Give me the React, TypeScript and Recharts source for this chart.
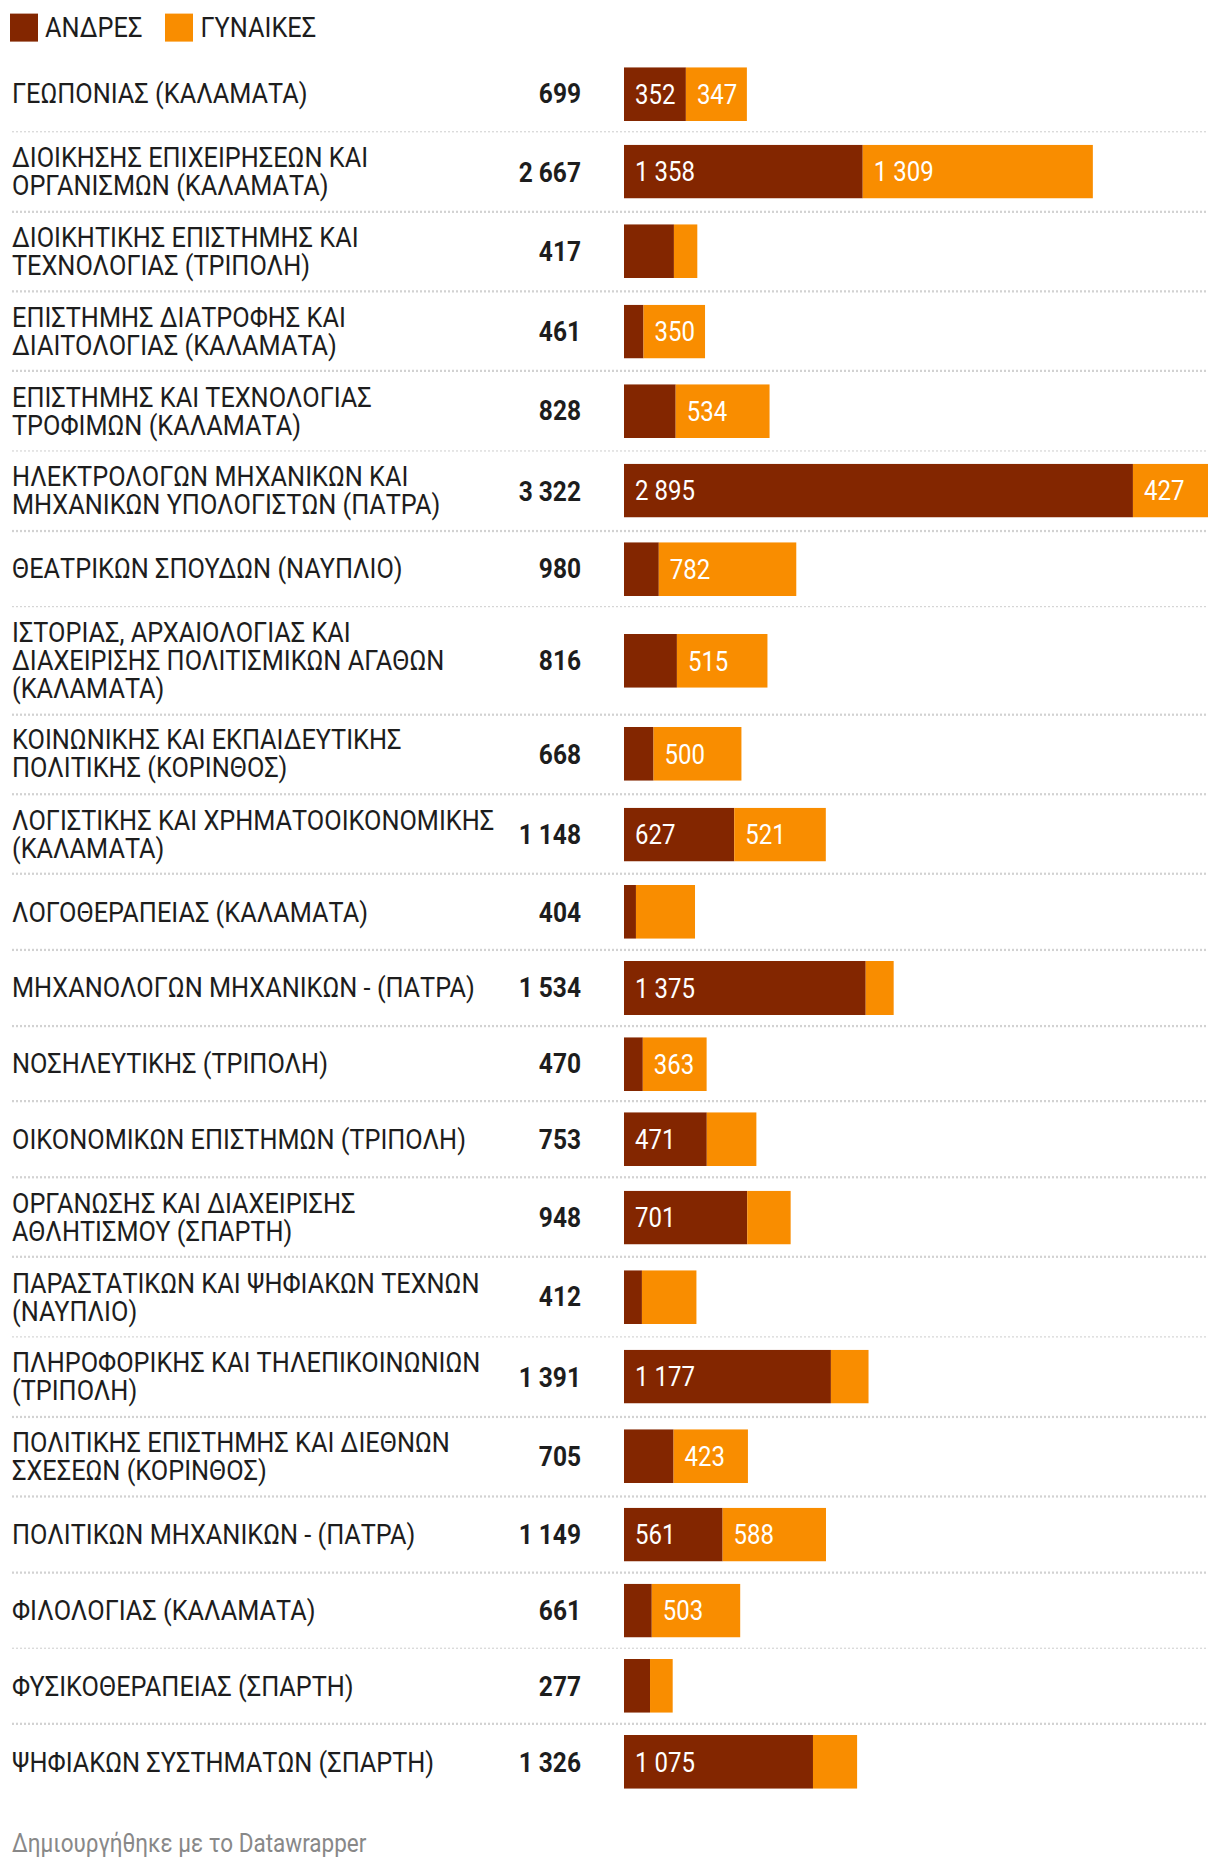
import React from 'react';
import { BarChart, Bar, XAxis, YAxis, LabelList } from 'recharts';

// line breaks follow the reference wrapping
const categories = [
  'ΓΕΩΠΟΝΙΑΣ (ΚΑΛΑΜΑΤΑ)',
  'ΔΙΟΙΚΗΣΗΣ ΕΠΙΧΕΙΡΗΣΕΩΝ ΚΑΙ\nΟΡΓΑΝΙΣΜΩΝ (ΚΑΛΑΜΑΤΑ)',
  'ΔΙΟΙΚΗΤΙΚΗΣ ΕΠΙΣΤΗΜΗΣ ΚΑΙ\nΤΕΧΝΟΛΟΓΙΑΣ (ΤΡΙΠΟΛΗ)',
  'ΕΠΙΣΤΗΜΗΣ ΔΙΑΤΡΟΦΗΣ ΚΑΙ\nΔΙΑΙΤΟΛΟΓΙΑΣ (ΚΑΛΑΜΑΤΑ)',
  'ΕΠΙΣΤΗΜΗΣ ΚΑΙ ΤΕΧΝΟΛΟΓΙΑΣ\nΤΡΟΦΙΜΩΝ (ΚΑΛΑΜΑΤΑ)',
  'ΗΛΕΚΤΡΟΛΟΓΩΝ ΜΗΧΑΝΙΚΩΝ ΚΑΙ\nΜΗΧΑΝΙΚΩΝ ΥΠΟΛΟΓΙΣΤΩΝ (ΠΑΤΡΑ)',
  'ΘΕΑΤΡΙΚΩΝ ΣΠΟΥΔΩΝ (ΝΑΥΠΛΙΟ)',
  'ΙΣΤΟΡΙΑΣ, ΑΡΧΑΙΟΛΟΓΙΑΣ ΚΑΙ\nΔΙΑΧΕΙΡΙΣΗΣ ΠΟΛΙΤΙΣΜΙΚΩΝ ΑΓΑΘΩΝ\n(ΚΑΛΑΜΑΤΑ)',
  'ΚΟΙΝΩΝΙΚΗΣ ΚΑΙ ΕΚΠΑΙΔΕΥΤΙΚΗΣ\nΠΟΛΙΤΙΚΗΣ (ΚΟΡΙΝΘΟΣ)',
  'ΛΟΓΙΣΤΙΚΗΣ ΚΑΙ ΧΡΗΜΑΤΟΟΙΚΟΝΟΜΙΚΗΣ\n(ΚΑΛΑΜΑΤΑ)',
  'ΛΟΓΟΘΕΡΑΠΕΙΑΣ (ΚΑΛΑΜΑΤΑ)',
  'ΜΗΧΑΝΟΛΟΓΩΝ ΜΗΧΑΝΙΚΩΝ - (ΠΑΤΡΑ)',
  'ΝΟΣΗΛΕΥΤΙΚΗΣ (ΤΡΙΠΟΛΗ)',
  'ΟΙΚΟΝΟΜΙΚΩΝ ΕΠΙΣΤΗΜΩΝ (ΤΡΙΠΟΛΗ)',
  'ΟΡΓΑΝΩΣΗΣ ΚΑΙ ΔΙΑΧΕΙΡΙΣΗΣ\nΑΘΛΗΤΙΣΜΟΥ (ΣΠΑΡΤΗ)',
  'ΠΑΡΑΣΤΑΤΙΚΩΝ ΚΑΙ ΨΗΦΙΑΚΩΝ ΤΕΧΝΩΝ\n(ΝΑΥΠΛΙΟ)',
  'ΠΛΗΡΟΦΟΡΙΚΗΣ ΚΑΙ ΤΗΛΕΠΙΚΟΙΝΩΝΙΩΝ\n(ΤΡΙΠΟΛΗ)',
  'ΠΟΛΙΤΙΚΗΣ ΕΠΙΣΤΗΜΗΣ ΚΑΙ ΔΙΕΘΝΩΝ\nΣΧΕΣΕΩΝ (ΚΟΡΙΝΘΟΣ)',
  'ΠΟΛΙΤΙΚΩΝ ΜΗΧΑΝΙΚΩΝ - (ΠΑΤΡΑ)',
  'ΦΙΛΟΛΟΓΙΑΣ (ΚΑΛΑΜΑΤΑ)',
  'ΦΥΣΙΚΟΘΕΡΑΠΕΙΑΣ (ΣΠΑΡΤΗ)',
  'ΨΗΦΙΑΚΩΝ ΣΥΣΤΗΜΑΤΩΝ (ΣΠΑΡΤΗ)',
];

// ΑΝΔΡΕΣ / ΓΥΝΑΙΚΕΣ per department (unlabelled segments)
const menValues = [352, 1358, 284, 111, 294, 2895, 198, 301, 168, 627, 68, 1375, 107, 471, 701, 102, 1177, 282, 561, 158, 148, 1075];
const womenValues = [347, 1309, 133, 350, 534, 427, 782, 515, 500, 521, 336, 159, 363, 282, 247, 310, 214, 423, 588, 503, 129, 251];

const seriesNames = ['ΑΝΔΡΕΣ', 'ΓΥΝΑΙΚΕΣ'];
const seriesColors = ['#832600', '#f98d00'];
const footerText = 'Δημιουργήθηκε με το Datawrapper';

// the reference glyphs are taller than Roboto's natural proportions
const STRETCH = 1.12;
const FONT = 'Roboto, "Noto Sans", sans-serif';
const BAR_WIDTH = 584;
const BAR_HEIGHT = 48;
const ROW_PAD = 9.72;

const rows = categories.map((name, i) => ({
  name,
  men: menValues[i],
  women: womenValues[i],
  total: menValues[i] + womenValues[i],
}));
const maxTotal = Math.max(...rows.map((r) => r.total));

const fmt = (v: number) => String(v).replace(/\B(?=(\d{3})+(?!\d))/g, ' ');

// datawrapper hides the value when it doesn't fit in the segment
const SegmentLabel = (props: any) => {
  const { x, y, width, height, value } = props;
  const text = fmt(Number(value));
  const digits = text.replace(/ /g, '').length;
  const spaces = text.length - digits;
  const needed = digits * 13.5 + spaces * 6 + 20;
  if (width < needed) return null;
  return (
    <text x={x + 11} y={y + height / 2} dy="0.36em" fill="#ffffff" fontSize={24} fontFamily={FONT}>
      {text}
    </text>
  );
};

const RowBar = ({ row }: { row: (typeof rows)[number] }) => (
  <div style={{ height: BAR_HEIGHT - 1.5, marginLeft: 43 }}>
    <div style={{ marginTop: -0.75 }}>
      <BarChart
        layout="vertical"
        width={BAR_WIDTH}
        height={BAR_HEIGHT}
        data={[row]}
        margin={{ top: 0, right: 0, bottom: 0, left: 0 }}
        barCategoryGap={0}
      >
        <XAxis type="number" domain={[0, maxTotal]} hide />
        <YAxis type="category" dataKey="name" hide />
        <Bar dataKey="men" stackId="a" fill={seriesColors[0]} isAnimationActive={false}>
          <LabelList dataKey="men" content={SegmentLabel} />
        </Bar>
        <Bar dataKey="women" stackId="a" fill={seriesColors[1]} isAnimationActive={false}>
          <LabelList dataKey="women" content={SegmentLabel} />
        </Bar>
      </BarChart>
    </div>
  </div>
);

const dotted = 'repeating-linear-gradient(to right, #d2d2d2 0px, #d2d2d2 2px, transparent 2px, transparent 4px)';

export default function App() {
  return (
    <div style={{ height: 1850 }}>
      <div
        style={{
          width: 1212,
          transform: `scaleY(${STRETCH})`,
          transformOrigin: 'top left',
          fontFamily: FONT,
          color: '#1d1d1d',
        }}
      >
        {/* legend */}
        <div style={{ display: 'flex', alignItems: 'center', marginLeft: 2, paddingTop: 5.4, height: 25 }}>
          {seriesNames.map((name, i) => (
            <div key={name} style={{ display: 'flex', alignItems: 'center', marginRight: 23 }}>
              <div style={{ width: 28, height: 25, background: seriesColors[i] }} />
              <span style={{ marginLeft: 7, fontSize: 25.3, lineHeight: '25px' }}>{name}</span>
            </div>
          ))}
        </div>

        <div style={{ marginTop: 13.35, marginLeft: 4, width: 1196 }}>
          {rows.map((row, i) => (
            <React.Fragment key={row.name}>
              <div style={{ display: 'flex', alignItems: 'center', padding: `${ROW_PAD}px 0` }}>
                <div style={{ width: 490, fontSize: 25.3, lineHeight: '25px', whiteSpace: 'pre-line' }}>{row.name}</div>
                <div style={{ width: 79, textAlign: 'right', fontSize: 24.5, fontWeight: 700, lineHeight: '25px' }}>
                  {fmt(row.total)}
                </div>
                <RowBar row={row} />
              </div>
              {i < rows.length - 1 && <div style={{ height: 1.8, background: dotted }} />}
            </React.Fragment>
          ))}
        </div>

        <div style={{ marginTop: 28, marginLeft: 4, fontSize: 22.5, lineHeight: '22.5px', color: '#888888' }}>
          {footerText}
        </div>
      </div>
    </div>
  );
}
